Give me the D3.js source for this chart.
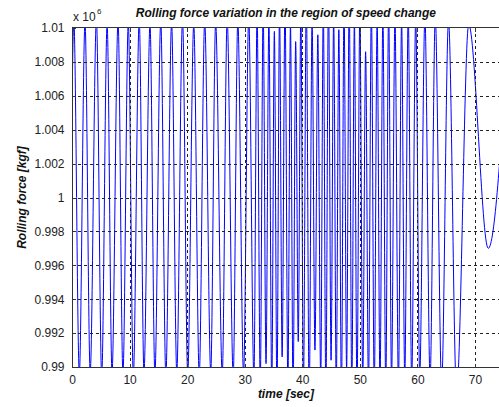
<!DOCTYPE html>
<html>
<head>
<meta charset="utf-8">
<script src="https://cdn.jsdelivr.net/npm/d3@7"></script>
<style>
  html, body { margin: 0; padding: 0; background: #ffffff; }
  svg { display: block; }
  text { font-family: "Liberation Sans", Arial, Helvetica, sans-serif; }
</style>
</head>
<body>
<svg id="chart" width="499" height="407"></svg>
<script>
// ---------------- data (force in units of 1e6 kgf) ----------------
const startTime = 0;
const startValue = 1.0055;

const peakTimes = [0.32, 2.26, 4.24, 6.1, 8.0, 9.78, 11.68, 13.55, 15.42, 17.3, 19.2, 21.15, 23.05, 24.95, 26.95, 28.8,
  30.7, 32.15, 33.2, 34.2, 35.15, 36.05, 37.0, 37.95, 38.85, 39.75, 40.7, 41.7, 42.7, 43.65, 44.55, 45.45, 46.35,
  47.25, 48.15, 49.05, 50.0, 51.0, 52.0, 53.0, 54.0, 55.0, 56.1, 57.25, 58.4, 59.7, 61.3, 63.1, 65.4, 68.9, 75.6];
const peakValues = [1.0104, 1.0103, 1.0105, 1.0102, 1.0104, 1.0103, 1.0105, 1.0102, 1.0104, 1.0103, 1.0105, 1.0102, 1.0104, 1.0103, 1.0105, 1.0104,
  1.0106, 1.0108, 1.0112, 1.0105, 1.0098, 1.0110, 1.0115, 1.0102, 1.0092, 1.0110, 1.0118, 1.0104, 1.0096, 1.0112, 1.0120, 1.0106, 1.0099,
  1.0114, 1.0118, 1.0104, 1.0110, 1.0086, 1.0112, 1.0104, 1.0108, 1.0112, 1.0106, 1.0104, 1.0108, 1.0105, 1.0106, 1.0106, 1.0104, 1.0102, 1.0088];

const troughTimes = [1.27, 3.16, 5.16, 6.95, 8.85, 10.65, 12.5, 14.4, 16.3, 18.2, 20.1, 22.1, 24.1, 26.1, 28.0, 29.8,
  31.6, 32.7, 33.7, 34.7, 35.6, 36.5, 37.5, 38.4, 39.3, 40.2, 41.2, 42.2, 43.2, 44.1, 45.0, 45.9, 46.8,
  47.7, 48.6, 49.5, 50.5, 51.5, 52.5, 53.5, 54.5, 55.5, 56.7, 57.8, 59.0, 60.4, 62.2, 64.2, 66.8, 72.3];
const troughValues = [0.9896, 0.9897, 0.9895, 0.9897, 0.9896, 0.9895, 0.9897, 0.9896, 0.9895, 0.9897, 0.9896, 0.9895, 0.9897, 0.9896, 0.9895, 0.9896,
  0.9894, 0.9890, 0.9902, 0.9888, 0.9884, 0.9906, 0.9890, 0.9882, 0.9915, 0.9888, 0.9880, 0.9910, 0.9892, 0.9884, 0.9904, 0.9888, 0.9882,
  0.9898, 0.9886, 0.9884, 0.9892, 0.9888, 0.9886, 0.9890, 0.9888, 0.9892, 0.9890, 0.9893, 0.9892, 0.9895, 0.9893, 0.9890, 0.9885, 0.9970];

const xTicks = [0, 10, 20, 30, 40, 50, 60, 70];
const yTicks = [0.99, 0.992, 0.994, 0.996, 0.998, 1.0, 1.002, 1.004, 1.006, 1.008, 1.01];
const yTickLabels = ["0.99", "0.992", "0.994", "0.996", "0.998", "1", "1.002", "1.004", "1.006", "1.008", "1.01"];

const titleText = "Rolling force variation in the region of speed change";
const xLabelText = "time [sec]";
const yLabelText = "Rolling force [kgf]";

// ---------------- layout ----------------
const L = 72, T = 28, B = 367;
const xDomain = [0, 75];
const pxPerUnit = (475 - 72) / 70;
const R = L + (xDomain[1] - xDomain[0]) * pxPerUnit;

const x = d3.scaleLinear().domain(xDomain).range([L, R]);
const y = d3.scaleLinear().domain([0.99, 1.01]).range([B, T]);

const svg = d3.select("#chart");
svg.append("rect").attr("width", 499).attr("height", 407).attr("fill", "#ffffff");

svg.append("defs").append("clipPath").attr("id", "plotClip")
  .append("rect").attr("x", L).attr("y", T).attr("width", R - L).attr("height", B - T);

// merge extrema into one ordered series
const pts = [{t: startTime, v: startValue}];
peakTimes.forEach((t, i) => pts.push({t, v: peakValues[i]}));
troughTimes.forEach((t, i) => pts.push({t, v: troughValues[i]}));
pts.sort((a, b) => a.t - b.t);

const line = d3.line().x(d => x(d.t)).y(d => y(d.v)).curve(d3.curveMonotoneX);

svg.append("g").attr("clip-path", "url(#plotClip)")
  .append("path").datum(pts)
  .attr("d", line)
  .attr("fill", "none")
  .attr("stroke", "#0000ff")
  .attr("stroke-width", 1);

// grid (drawn on top, like the reference)
const grid = svg.append("g").attr("stroke", "#222").attr("stroke-width", 1)
  .attr("stroke-dasharray", "3,3").attr("shape-rendering", "crispEdges");
grid.selectAll("line.gx").data(xTicks.filter(d => d > 0)).enter().append("line")
  .attr("x1", d => Math.round(x(d)) + 0.5).attr("x2", d => Math.round(x(d)) + 0.5)
  .attr("y1", T).attr("y2", B);
grid.selectAll("line.gy").data(yTicks.filter(d => d > 0.99 && d < 1.01)).enter().append("line")
  .attr("x1", L).attr("x2", R)
  .attr("y1", d => Math.round(y(d)) + 0.5).attr("y2", d => Math.round(y(d)) + 0.5);

// axes
const xAxis = d3.axisBottom(x).tickValues(xTicks).tickFormat(d3.format("d")).tickSizeInner(-4).tickSizeOuter(0).tickPadding(8);
const yAxis = d3.axisLeft(y).tickValues(yTicks).tickFormat((d, i) => yTickLabels[i]).tickSizeInner(-4).tickSizeOuter(0).tickPadding(7);
const xTop = d3.axisTop(x).tickValues(xTicks).tickFormat("").tickSizeInner(-4).tickSizeOuter(0);

const gx = svg.append("g").attr("transform", `translate(0,${B + 0.5})`).call(xAxis);
const gy = svg.append("g").attr("transform", `translate(${L - 0.5},0)`).call(yAxis);
const gt = svg.append("g").attr("transform", `translate(0,${T - 0.5})`).call(xTop);

[gx, gy, gt].forEach(g => {
  g.selectAll("path.domain").attr("stroke", "#333").attr("shape-rendering", "crispEdges");
  g.selectAll(".tick line").attr("stroke", "#333").attr("shape-rendering", "crispEdges");
  g.selectAll(".tick text").attr("fill", "#222").attr("font-size", 12)
    .attr("font-family", "'Liberation Sans', Arial, sans-serif");
});
gx.select("path.domain").attr("d", `M${L},0H${R}`);
gt.select("path.domain").attr("d", `M${L},0H${R}`);

// exponent label
const expo = svg.append("text").attr("x", 73).attr("y", 21).attr("font-size", 12).attr("fill", "#222");
expo.append("tspan").text("x 10");
svg.append("text").attr("x", 97).attr("y", 14).attr("font-size", 8).attr("fill", "#222").text("6");

// title and axis labels
svg.append("text").attr("x", (L + R) / 2 - 2).attr("y", 17)
  .attr("text-anchor", "middle").attr("font-size", 12).attr("font-weight", "bold").attr("font-style", "italic")
  .attr("fill", "#111").text(titleText);
svg.append("text").attr("x", (L + R) / 2 - 2).attr("y", 398)
  .attr("text-anchor", "middle").attr("font-size", 12).attr("font-weight", "bold").attr("font-style", "italic")
  .attr("fill", "#111").text(xLabelText);
svg.append("text").attr("transform", `translate(26,${(T + B) / 2}) rotate(-90)`)
  .attr("text-anchor", "middle").attr("font-size", 12).attr("font-weight", "bold").attr("font-style", "italic")
  .attr("fill", "#111").text(yLabelText);
</script>
</body>
</html>
